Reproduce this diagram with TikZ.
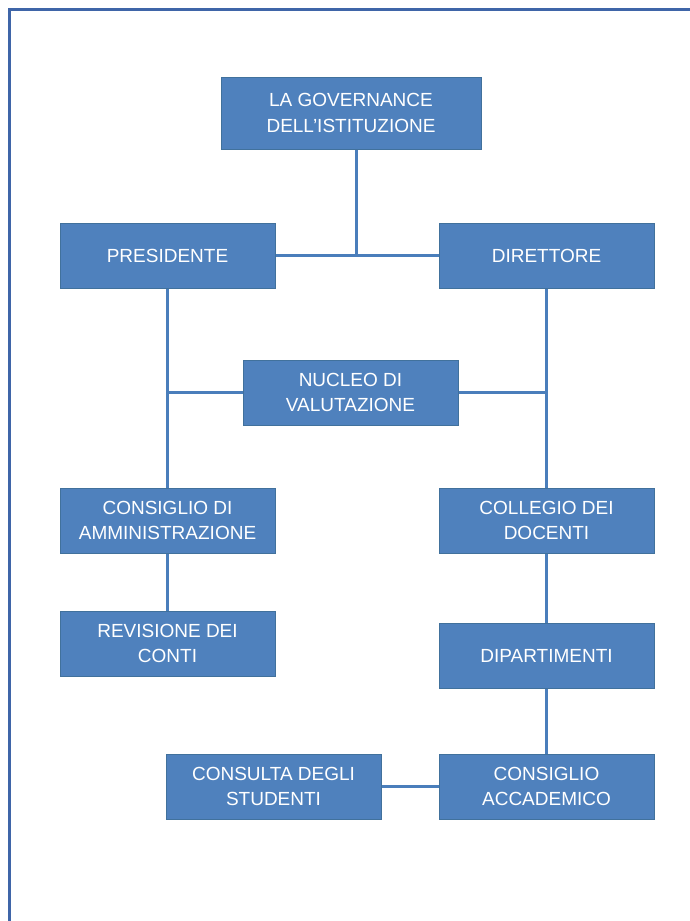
\documentclass[tikz,border=0pt]{standalone}
\usepackage{fontspec}
\setmainfont{Liberation Sans}
\usepackage{xcolor}
\usepackage{tikz}
\usetikzlibrary{positioning}
\definecolor{boxblue}{HTML}{4F81BD}
\definecolor{boxline}{HTML}{41719C}
\definecolor{linkblue}{HTML}{4A7EBB}
\definecolor{frameblue}{HTML}{3F65A8}
\begin{document}
\begin{tikzpicture}[x=1pt,y=-1pt,
  organo/.style={draw=boxline,line width=1pt,fill=boxblue,text=white,
    minimum width=215pt,minimum height=65pt,inner sep=0pt,align=center,
    font=\fontsize{19}{25.5}\selectfont},
  link/.style={draw=linkblue,line width=3pt}]
\useasboundingbox (0,0) rectangle (690,921);
\draw[frameblue,line width=2.5pt] (690,9.5) -- (9.5,9.5) -- (9.5,921);
\node[organo,minimum width=260pt,minimum height=72pt] at (351,113) (gov) {LA GOVERNANCE\\DELL’ISTITUZIONE};
\node[organo] at (167.5,255.5) (pres) {PRESIDENTE};
\node[organo] (dir) [right=163pt of pres] {DIRETTORE};
\node[organo] at (350.5,392.5) (nuc) {NUCLEO DI\\VALUTAZIONE};
\node[organo] (cda) [below=199pt of pres] {CONSIGLIO DI\\AMMINISTRAZIONE};
\node[organo] (rev) [below=57pt of cda] {REVISIONE DEI\\CONTI};
\node[organo] (col) [below=199pt of dir] {COLLEGIO DEI\\DOCENTI};
\node[organo] (dip) [below=69pt of col] {DIPARTIMENTI};
\node[organo] (acc) [below=65pt of dip] {CONSIGLIO\\ACCADEMICO};
\node[organo] (cons) [left=57pt of acc] {CONSULTA DEGLI\\STUDENTI};
\coordinate (g) at ([xshift=5pt]gov.south);
\path[link] (g) -- (g |- pres.east);
\path[link] (pres) edge (dir);
\path[link] (pres) edge (cda);
\path[link] (dir) edge (col);
\path[link] (nuc.west) edge (nuc.west -| pres.south);
\path[link] (nuc.east) edge (nuc.east -| dir.south);
\path[link] (cda) edge (rev);
\path[link] (col) edge (dip);
\path[link] (dip) edge (acc);
\path[link] (cons) edge (acc);
\end{tikzpicture}
\end{document}
